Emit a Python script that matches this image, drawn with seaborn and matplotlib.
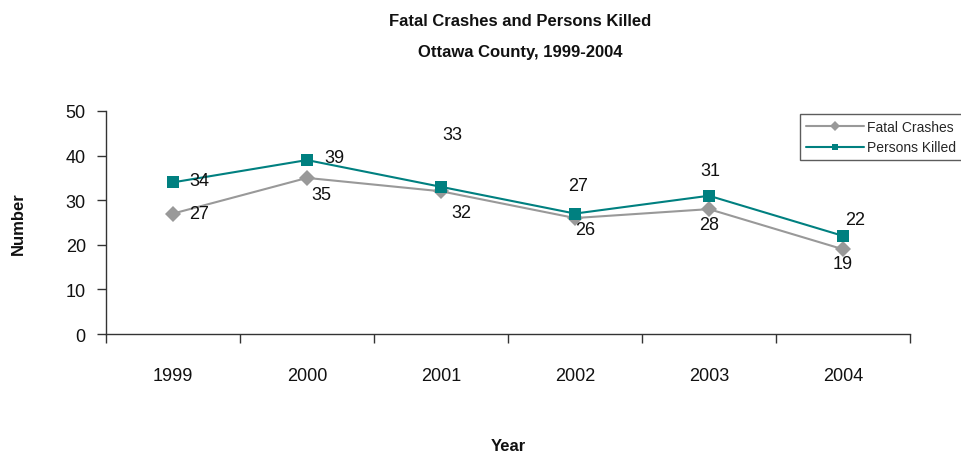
import matplotlib
matplotlib.use("Agg")
import matplotlib.pyplot as plt
from matplotlib import font_manager
import seaborn as sns
import pandas as pd

years = ["1999", "2000", "2001", "2002", "2003", "2004"]
fatal_crashes = [27, 35, 32, 26, 28, 19]
persons_killed = [34, 39, 33, 27, 31, 22]

# label offsets in points (dx, dy) for each value label
crash_offsets = [(19, 0), (10, -12), (15, -15), (7, -8), (0, -11), (0, -10)]
killed_offsets = [(19, 1), (20, 2), (8, 38), (2, 20), (1, 18), (9, 12)]

sns.set_theme(style="white")
names = {f.name for f in font_manager.fontManager.ttflist}
narrow = "Liberation Sans Narrow" if "Liberation Sans Narrow" in names else "Liberation Sans"
plt.rcParams["font.family"] = [narrow, "DejaVu Sans"]

df = pd.DataFrame({
    "Year": years * 2,
    "Number": fatal_crashes + persons_killed,
    "Series": ["Fatal Crashes"] * len(years) + ["Persons Killed"] * len(years),
})

fig = plt.figure(figsize=(9.62, 4.6), dpi=100)
ax = fig.add_axes([106 / 962, 1 - 335 / 460, (910 - 106) / 962, (335 - 112) / 460])

palette = {"Fatal Crashes": "#999999", "Persons Killed": "#008080"}
sns.lineplot(data=df, x="Year", y="Number", hue="Series", style="Series",
             markers={"Fatal Crashes": "D", "Persons Killed": "s"}, dashes=False,
             palette=palette, linewidth=1.5, markersize=8, markeredgewidth=0,
             ax=ax, legend=False, sort=False)

for i, v in enumerate(fatal_crashes):
    ax.annotate(str(v), (i, v), xytext=crash_offsets[i], textcoords="offset points",
                ha="center", va="center", fontsize=13, color="#111111")
for i, v in enumerate(persons_killed):
    ax.annotate(str(v), (i, v), xytext=killed_offsets[i], textcoords="offset points",
                ha="center", va="center", fontsize=13, color="#111111")

ax.set_xlim(-0.5, len(years) - 0.5)
ax.set_ylim(0, 50)
ax.set_yticks(range(0, 51, 10))
ax.set_xticks(range(len(years)))
ax.set_xticklabels(years)
ax.set_xticks([i - 0.5 for i in range(len(years) + 1)], minor=True)
ax.tick_params(axis="x", which="major", length=0, pad=24, labelsize=13, labelcolor="#111111")
ax.tick_params(axis="x", which="minor", length=6.5, width=1, direction="out", color="#333333", bottom=True)
ax.tick_params(axis="y", length=6.5, width=1, direction="out", color="#333333", labelsize=13,
               left=True, pad=8, labelcolor="#111111")

for side in ["top", "right"]:
    ax.spines[side].set_visible(False)
for side in ["left", "bottom"]:
    ax.spines[side].set_color("#333333")
    ax.spines[side].set_linewidth(1)

ax.set_xlabel("")
ax.set_ylabel("")
fig.text(18 / 962, 1 - 224 / 460, "Number", rotation=90, ha="center", va="center",
         fontsize=12, fontweight="bold", color="#111111")
fig.text(508 / 962, 1 - 447 / 460, "Year", ha="center", va="center",
         fontsize=12, fontweight="bold", color="#111111")

fig.text(520 / 962, 1 - 21 / 460, "Fatal Crashes and Persons Killed", ha="center",
         va="center", fontsize=12, fontweight="bold", color="#111111")
fig.text(520 / 962, 1 - 53 / 460, "Ottawa County, 1999-2004", ha="center",
         va="center", fontsize=12, fontweight="bold", color="#111111")

handles = [
    plt.Line2D([], [], color="#999999", marker="D", markersize=5, linewidth=1.5, markeredgewidth=0),
    plt.Line2D([], [], color="#008080", marker="s", markersize=5, linewidth=1.5, markeredgewidth=0),
]
leg = fig.legend(handles, ["Fatal Crashes", "Persons Killed"],
                 loc="upper left", bbox_to_anchor=(800 / 962, 1 - 115 / 460),
                 frameon=True, fancybox=False, fontsize=10, handlelength=4.2,
                 handletextpad=0.25, borderpad=0.4, labelspacing=0.5,
                 borderaxespad=0)
leg.get_frame().set_edgecolor("#333333")
leg.get_frame().set_linewidth(1)

fig.savefig("out.png", dpi=100)
